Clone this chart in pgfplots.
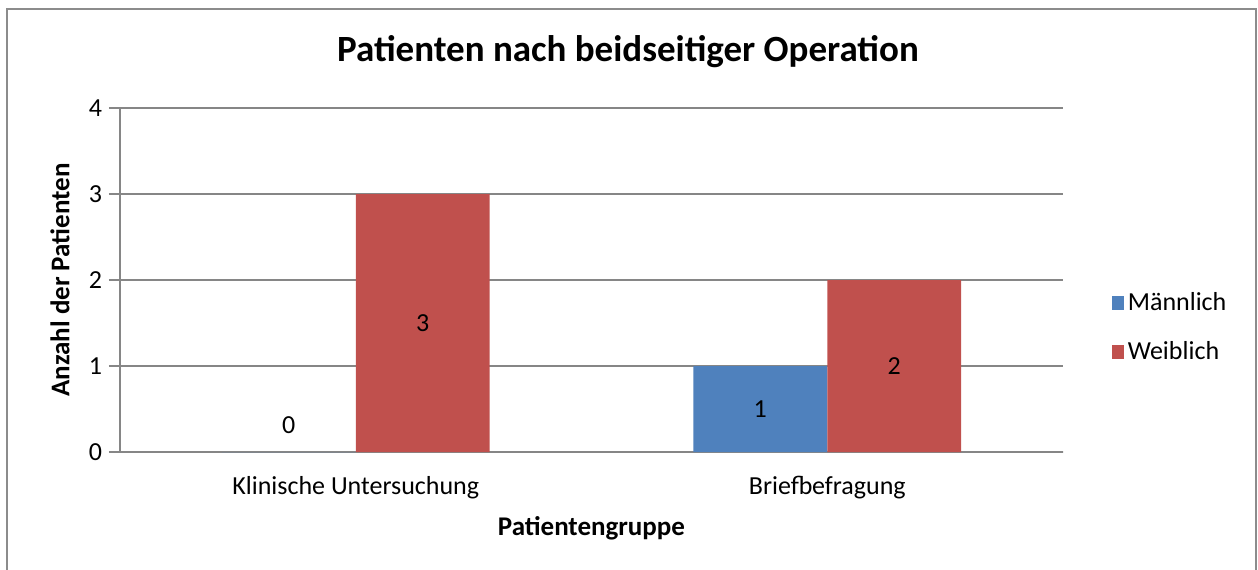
\documentclass[border=0pt]{standalone}
\usepackage{fontspec}
\setmainfont{Carlito}
\usepackage{pgfplots}
\pgfplotsset{compat=1.18}
\usetikzlibrary{calc}
\definecolor{blau}{HTML}{4F81BD}
\definecolor{rot}{HTML}{C0504D}
\definecolor{gitter}{HTML}{868686}
\definecolor{rahmen}{HTML}{8C8C8C}

\begin{document}
\begin{tikzpicture}
\begin{axis}[name=ax, at={(0,0)}, anchor=south west,
  width=471.5pt, height=172pt, scale only axis,
  /pgf/number format/assume math mode=true,
  ybar=0pt, bar width=0.284,
  xmin=-0.5, xmax=1.5, ymin=0, ymax=4,
  xtick={0,1}, xticklabels={Klinische Untersuchung, Briefbefragung},
  ytick={0,1,2,3,4},
  axis lines*=left,
  axis line style={gitter, line width=1pt},
  ymajorgrids, grid style={gitter, line width=1pt},
  tick align=outside, major tick length=5.5pt,
  xtick style={draw=none},
  ytick style={gitter, line width=1pt},
  tick label style={font=\fontsize{13}{15}\selectfont, black},
  xticklabel style={yshift=-3pt},
  xlabel={Patientengruppe}, ylabel={Anzahl der Patienten},
  label style={font=\bfseries\fontsize{13.5}{16}\selectfont},
  xlabel style={at={(axis description cs:0.5,0)}, anchor=center, yshift=-38pt},
  ylabel style={at={(axis description cs:-0.0636,0.5)}, anchor=center},
  legend style={at={(1.045,0.362)}, anchor=west, draw=none, fill=none,
    font=\fontsize{13}{15}\selectfont, row sep=10pt},
  legend cell align=left,
  legend image code/.code={\fill[#1] (-2pt,-3.5pt) rectangle (4pt,3.5pt);},
  nodes near coords,
  visualization depends on={rawy \as \rawy},
  every node near coord/.append style={font=\fontsize{13}{15}\selectfont, black,
    anchor=center, shift={(axis direction cs:0,-\rawy/2)},
    yshift={ifthenelse(\rawy==0,13.5,0)}},
]
\addplot[fill=blau, draw=none] coordinates {(0,0) (1,1)};
\addlegendentry{Männlich}
\addplot[fill=rot, draw=none] coordinates {(0,3) (1,2)};
\addlegendentry{Weiblich}
\draw[gitter, line width=1pt] (axis cs:-0.5,0) -- ++(0,-4pt)
  (axis cs:0.5,0) -- ++(0,-4pt) (axis cs:1.5,0) -- ++(0,-4pt);
\end{axis}
\node[font=\bfseries\fontsize{18.5}{22}\selectfont] at ($(ax.south west)+(254pt,200pt)$)
  {Patienten nach beidseitiger Operation};
\draw[rahmen, line width=1pt] ($(ax.south west)+(-56.5pt,-60pt)$) -- ($(ax.south west)+(-56.5pt,221.5pt)$)
  -- ($(ax.south west)+(568pt,221.5pt)$) -- ($(ax.south west)+(568pt,-60pt)$);
\pgfresetboundingbox
\path[use as bounding box] ($(ax.south west)+(-60pt,-58.5pt)$) rectangle ($(ax.south west)+(569pt,226pt)$);
\end{tikzpicture}
\end{document}
